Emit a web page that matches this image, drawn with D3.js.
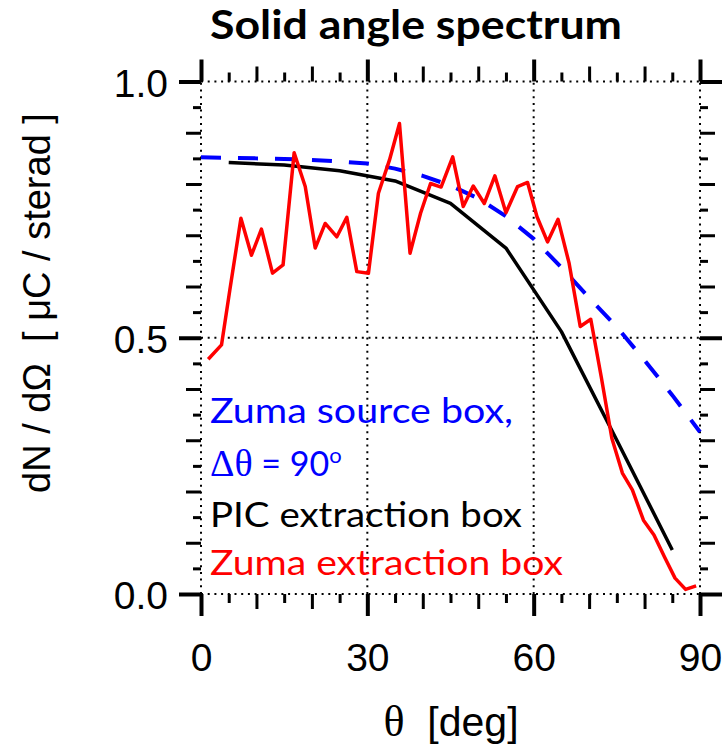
<!DOCTYPE html>
<html><head><meta charset="utf-8">
<script src="https://cdn.jsdelivr.net/npm/d3@7"></script>
<style>body{margin:0;background:#fff}</style>
</head><body>
<svg id="c" width="725" height="749"></svg>
<script>
const titleText = "Solid angle spectrum";
const xLabelTheta = "\u03b8";
const xLabelRest = "  [deg]";
const yLabelText = "dN / d\u03a9  [ \u03bcC / sterad ]";
const xMajorTicks = [0, 30, 60, 90];
const yMajorTicks = [0, 0.5, 1.0];
const xTickLabels = ["0", "30", "60", "90"];
const yTickLabels = ["0.0", "0.5", "1.0"];

// Zuma source box (blue dashed)
const sourceTheta = [0, 5, 10, 15, 20, 25, 30, 35, 40, 45, 50, 55, 60, 65, 70, 75, 80, 85, 90];
const sourceVal   = [0.852, 0.851, 0.850, 0.849, 0.847, 0.844, 0.840, 0.830, 0.816, 0.797, 0.772, 0.737, 0.693, 0.637, 0.578, 0.521, 0.456, 0.388, 0.316];

// PIC extraction box (black)
const picTheta = [5, 15, 25, 35, 45, 55, 65, 75, 85];
const picVal   = [0.842, 0.837, 0.826, 0.806, 0.762, 0.675, 0.512, 0.300, 0.086];

// Zuma extraction box (red)
const zumaTheta = [1.3, 3.7, 5.2, 7.2, 9.1, 10.9, 12.9, 14.8, 16.8, 18.8, 20.6, 22.4, 24.5, 26.3, 28.1, 30.2,
                   32.0, 34.0, 35.8, 37.7, 39.6, 41.4, 43.3, 45.4, 47.3, 49.1, 51.1, 53.0, 55.0, 57.1, 58.9,
                   60.6, 62.5, 64.4, 66.4, 68.4, 70.3, 72.2, 74.1, 76.0, 77.8, 79.8, 81.7, 83.6, 85.5, 87.4, 89.3];
const zumaVal   = [0.458, 0.486, 0.593, 0.733, 0.661, 0.712, 0.626, 0.642, 0.861, 0.795, 0.675, 0.723, 0.697, 0.735, 0.629, 0.626,
                   0.782, 0.847, 0.918, 0.665, 0.743, 0.801, 0.794, 0.853, 0.756, 0.796, 0.762, 0.816, 0.744, 0.795, 0.803,
                   0.736, 0.687, 0.731, 0.645, 0.522, 0.536, 0.423, 0.304, 0.236, 0.203, 0.144, 0.115, 0.072, 0.031, 0.009, 0.016];

const legendLines = ["Zuma source box,", "PIC extraction box", "Zuma extraction box"];

const svg = d3.select("#c");
const L = 201, R = 700, T = 81.5, B = 594;
const x = d3.scaleLinear().domain([0, 90]).range([L, R]);
const y = d3.scaleLinear().domain([0, 1]).range([B, T]);

// dotted grid
const grid = svg.append("g").attr("stroke", "#000").attr("stroke-width", 2).attr("stroke-dasharray", "2,4.7");
xMajorTicks.forEach(v => grid.append("line").attr("x1", x(v)).attr("x2", x(v)).attr("y1", y(0)).attr("y2", y(1)));
yMajorTicks.forEach(v => grid.append("line").attr("x1", x(0)).attr("x2", x(90)).attr("y1", y(v)).attr("y2", y(v)));

// ticks
const xAll = d3.range(0, 91, 5);
const yAll = d3.range(0, 21).map(i => i * 0.05);
const xMid = xAll.filter(v => v % 30 !== 0 && v % 10 === 0);
const xMin = xAll.filter(v => v % 10 !== 0);
const yMid = yAll.filter(v => Math.abs(v * 10 - Math.round(v * 10)) < 1e-6 && Math.abs(v * 2 - Math.round(v * 2)) > 1e-6);
const yMin = yAll.filter(v => Math.abs(v * 10 - Math.round(v * 10)) > 1e-6);

function tickSet(axisFn, scale, vals, size, width, pos, labels, pad) {
  const ax = axisFn(scale).tickValues(vals).tickSizeInner(size).tickSizeOuter(0).tickPadding(pad || 3)
    .tickFormat(labels ? ((d, i) => labels[i]) : () => "");
  const g = svg.append("g").attr("transform", pos).call(ax);
  g.select(".domain").remove();
  g.selectAll(".tick line").attr("stroke", "#000").attr("stroke-width", width);
  return g;
}
// bottom
const gb = tickSet(d3.axisBottom, x, xMajorTicks, 22, 4, `translate(0,${B})`, xTickLabels, 26);
tickSet(d3.axisBottom, x, xMid, 15, 3, `translate(0,${B})`);
tickSet(d3.axisBottom, x, xMin, 9, 3, `translate(0,${B})`);
// top
tickSet(d3.axisTop, x, xMajorTicks, 22, 4, `translate(0,${T})`);
tickSet(d3.axisTop, x, xMid, 15, 3, `translate(0,${T})`);
tickSet(d3.axisTop, x, xMin, 9, 3, `translate(0,${T})`);
// left
const gl = tickSet(d3.axisLeft, y, yMajorTicks, 22, 4, `translate(${L},0)`, yTickLabels, 11);
tickSet(d3.axisLeft, y, yMid, 15, 3, `translate(${L},0)`);
tickSet(d3.axisLeft, y, yMin, 8, 3, `translate(${L},0)`);
// right
tickSet(d3.axisRight, y, yMajorTicks, 22, 4, `translate(${R},0)`);
tickSet(d3.axisRight, y, yMid, 15, 3, `translate(${R},0)`);
tickSet(d3.axisRight, y, yMin, 8, 3, `translate(${R},0)`);

[gb, gl].forEach(g => g.selectAll("text").attr("font-family", "Liberation Sans, Arial, sans-serif")
  .attr("font-size", 39).attr("fill", "#000"));
gl.selectAll("text").attr("dy", "0.38em");
gb.selectAll("text").attr("dy", "0.74em");

// lines
const line = d3.line().x(d => x(d[0])).y(d => y(d[1]));
svg.append("path").datum(sourceTheta.map((t, i) => [t, sourceVal[i]]))
  .attr("d", line).attr("fill", "none").attr("stroke", "#0000ff").attr("stroke-width", 4)
  .attr("stroke-dasharray", "20,17");
svg.append("path").datum(picTheta.map((t, i) => [t, picVal[i]]))
  .attr("d", line).attr("fill", "none").attr("stroke", "#000").attr("stroke-width", 3.5)
  .attr("stroke-linejoin", "round");
svg.append("path").datum(zumaTheta.map((t, i) => [t, zumaVal[i]]))
  .attr("d", line).attr("fill", "none").attr("stroke", "#ff0000").attr("stroke-width", 3.5)
  .attr("stroke-linejoin", "round");

// title
svg.append("text").attr("x", 416).attr("y", 39).attr("text-anchor", "middle")
  .attr("font-family", "Lato, sans-serif").attr("font-weight", "bold").attr("font-size", 40)
  .attr("textLength", 412).attr("lengthAdjust", "spacingAndGlyphs")
  .text(titleText);

// axis labels
const xl = svg.append("text").attr("x", 451).attr("y", 736).attr("text-anchor", "middle")
  .attr("font-family", "Liberation Sans, Arial, sans-serif").attr("font-size", 41);
xl.append("tspan").attr("font-family", "Liberation Serif, serif").attr("font-size", 44).text(xLabelTheta);
xl.append("tspan").style("white-space", "pre").text(xLabelRest);

svg.append("text").attr("transform", "translate(50,303) rotate(-90)").attr("text-anchor", "middle")
  .attr("font-family", "Liberation Sans, Arial, sans-serif").attr("font-size", 38)
  .style("white-space", "pre").text(yLabelText);

// legend
const lf = "Lato, sans-serif";
svg.append("text").attr("x", 210).attr("y", 423).attr("fill", "#0000ff").attr("font-family", lf)
  .attr("font-size", 34).attr("textLength", 303).attr("lengthAdjust", "spacingAndGlyphs").text(legendLines[0]);
const dl = svg.append("text").attr("x", 210).attr("y", 476).attr("fill", "#0000ff").attr("font-family", lf).attr("font-size", 34);
dl.append("tspan").attr("font-family", "Liberation Serif, serif").attr("font-size", 38).text("\u0394\u03b8");
dl.append("tspan").style("white-space", "pre").text(" = 90");
dl.append("tspan").attr("font-size", 22).attr("dy", -13).text("o");
svg.append("text").attr("x", 210).attr("y", 527).attr("fill", "#000").attr("font-family", lf)
  .attr("font-size", 34).attr("textLength", 312).attr("lengthAdjust", "spacingAndGlyphs").text(legendLines[1]);
svg.append("text").attr("x", 210).attr("y", 575).attr("fill", "#ff0000").attr("font-family", lf)
  .attr("font-size", 34).attr("textLength", 353).attr("lengthAdjust", "spacingAndGlyphs").text(legendLines[2]);
</script>
</body></html>
